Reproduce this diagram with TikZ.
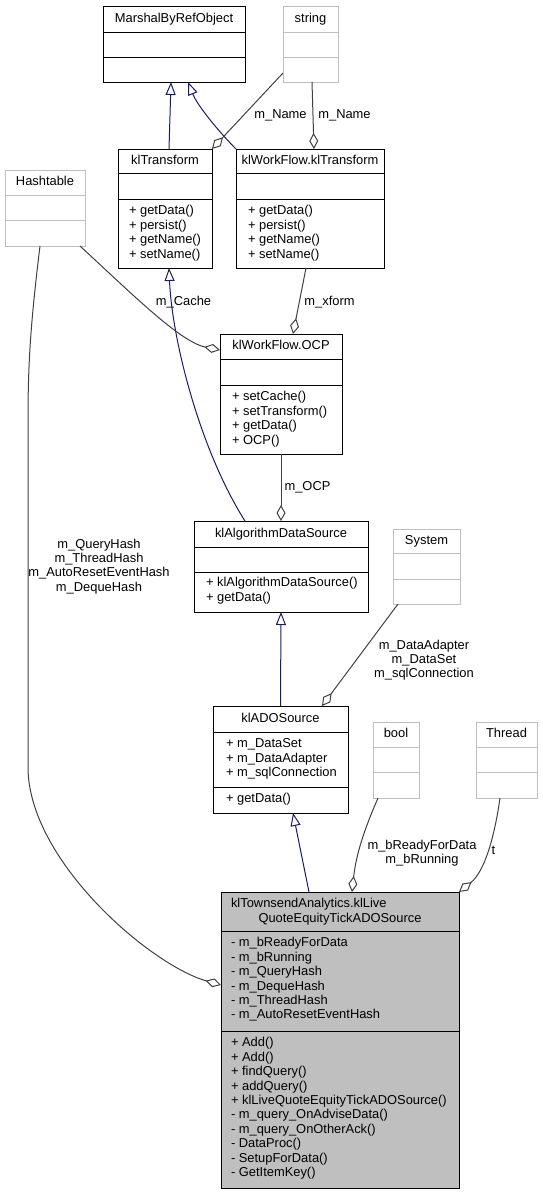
\documentclass[tikz,border=0pt]{standalone}
\usepackage{fontspec}
\setmainfont{Liberation Sans}
\usetikzlibrary{arrows.meta,calc}

\definecolor{inhblue}{HTML}{191970}
\definecolor{aggrey}{HTML}{404040}
\definecolor{extgrey}{HTML}{BFBFBF}
\definecolor{focusfill}{HTML}{BFBFBF}

\newcommand{\umlfont}{\fontsize{12.9}{14.4}\selectfont}

% class box: name, style, x1, y1, x2, y2, first divider, second divider
\newcommand{\umlclass}[8]{%
  \node[#2, minimum width={#5-#3}, minimum height={#6-#4}] (#1) at ({(#3+#5)/2},{(#4+#6)/2}) {};
  \draw[#2, fill=none] (#3,#7) -- (#5,#7) (#3,#8) -- (#5,#8);
}

\begin{document}
\begin{tikzpicture}[x=1pt,y=-1pt,
  every node/.style={font=\umlfont, inner sep=0pt, outer sep=0pt, text=black},
  cls/.style={draw=black, line width=1pt, rectangle},
  extcls/.style={draw=extgrey, line width=1pt, rectangle},
  focuscls/.style={draw=black, line width=1pt, rectangle, fill=focusfill},
  title/.style={anchor=base},
  members/.style={anchor=north west, align=left},
  lbl/.style={anchor=north, align=center},
  inherit/.style={draw=inhblue, line width=1pt, -{Triangle[open,length=13pt,width=10pt]}},
  aggr/.style={draw=aggrey, line width=1pt, -{Diamond[open,length=16pt,width=9pt]}},
]
\useasboundingbox (0,0) rectangle (543,1195);

% ---- class boxes ----
\umlclass{mbro}{cls}{103}{6}{245}{82}{32}{57}
\node[title] (mbro-t) at (174,22) {MarshalByRefObject};

\umlclass{string}{extcls}{283}{6}{338}{82}{32}{57}
\node[title] (string-t) at (310.5,22) {string};

\umlclass{klT}{cls}{118}{149}{212}{268}{173}{199}
\node[title] (klT-t) at (165,164) {klTransform};
\node[members] (klT-ops) at (129,204.9) {\strut+ getData()\\+ persist()\\+ getName()\\+ setName()};

\umlclass{wkT}{cls}{236}{149}{384}{268}{173}{199}
\node[title] (wkT-t) at (310,164) {klWorkFlow.klTransform};
\node[members] (wkT-ops) at (248,204.9) {\strut+ getData()\\+ persist()\\+ getName()\\+ setName()};

\umlclass{hash}{extcls}{5}{170}{85}{246}{195}{220}
\node[title] (hash-t) at (45,185.5) {Hashtable};

\umlclass{ocp}{cls}{220}{334}{342}{454}{359}{385}
\node[title] (ocp-t) at (281,349.5) {klWorkFlow.OCP};
\node[members] (ocp-ops) at (232,390.9) {\strut+ setCache()\\+ setTransform()\\+ getData()\\+ OCP()};

\umlclass{ads}{cls}{194}{521}{368}{612}{547}{572}
\node[title] (ads-t) at (281,537) {klAlgorithmDataSource};
\node[members] (ads-ops) at (206,576.9) {\strut+ klAlgorithmDataSource()\\+ getData()};

\umlclass{sys}{extcls}{393}{529}{460}{604}{553}{579}
\node[title] (sys-t) at (426.5,544) {System};

\umlclass{ado}{cls}{213}{706}{348}{813}{732}{787}
\node[title] (ado-t) at (280.5,722) {klADOSource};
\node[members] (ado-attr) at (226,737.9) {\strut+ m\_DataSet\\+ m\_DataAdapter\\+ m\_sqlConnection};
\node[members] (ado-ops) at (226,792.9) {\strut+ getData()};

\umlclass{bool}{extcls}{373}{722}{419}{798}{747}{772}
\node[title] (bool-t) at (396,737.5) {bool};

\umlclass{thread}{extcls}{476}{722}{537}{798}{747}{772}
\node[title] (thread-t) at (506.5,737.5) {Thread};

\umlclass{tsa}{focuscls}{221}{892}{459}{1188}{931}{1031}
\node[anchor=base west] (tsa-t1) at (231,907.5) {klTownsendAnalytics.klLive};
\node[title] (tsa-t2) at (340,922) {QuoteEquityTickADOSource};
\node[members] (tsa-attr) at (231,936.9) {\strut- m\_bReadyForData\\- m\_bRunning\\- m\_QueryHash\\- m\_DequeHash\\- m\_ThreadHash\\- m\_AutoResetEventHash};
\node[members] (tsa-ops) at (231,1036.9) {\strut+ Add()\\+ Add()\\+ findQuery()\\+ addQuery()\\+ klLiveQuoteEquityTickADOSource()\\- m\_query\_OnAdviseData()\\- m\_query\_OnOtherAck()\\- DataProc()\\- SetupForData()\\- GetItemKey()};

% ---- generalisations ----
\draw[inherit] ([xshift=4pt]klT.north) -- ([xshift=-3pt]mbro.south);
\draw[inherit] (wkT.north west) .. controls +(-14,-14) and +(10,25) .. ([xshift=14pt]mbro.south);
\draw[inherit] ([xshift=-36pt]ads.north) .. controls (200,450) and (172,340) .. ([xshift=4pt]klT.south);
\draw[inherit] (ado.north) -- (ads.south);
\draw[inherit] ([xshift=-31pt]tsa.north) -- ([xshift=12.5pt]ado.south);

% ---- aggregations ----
\draw[aggr] ([yshift=-29pt]string.west) -- (klT.north east);
\draw[aggr] ([xshift=1.5pt]string.south) -- ([xshift=4pt]wkT.north);
\draw[aggr] ([xshift=-5pt]hash.south east) .. controls (130,292) and (180,342) .. ([yshift=-16pt]ocp.north west);
\draw[aggr] ([xshift=-4pt]wkT.south) -- ([xshift=12pt]ocp.north);
\draw[aggr] (ocp.south) -- (ads.north);
\draw[aggr] ([xshift=-28.5pt]sys.south) -- ([xshift=41.5pt]ado.north);
\draw[aggr] ([xshift=-5pt]hash.south) .. controls (31,320) and (28,360) .. (28,420) -- (28,767)
  .. controls (28,860) and (150,965) .. ([yshift=55pt]tsa.west);
\draw[aggr] ([xshift=-18pt]bool.south) .. controls (364,830) and (356,855) .. ([xshift=12pt]tsa.north);
\draw[aggr] ([xshift=-6.5pt]thread.south) .. controls (494,840) and (484,872) .. (tsa.north east);

% ---- role labels ----
\node[title] (lbl-name1) at (280.5,118) {m\_Name};
\node[title] (lbl-name2) at (344.5,118) {m\_Name};
\node[title] (lbl-cache) at (183.5,305) {m\_Cache};
\node[title] (lbl-xform) at (329.5,305) {m\_xform};
\node[title] (lbl-ocp) at (307.5,490.5) {m\_OCP};
\node[lbl] (lbl-hash) at (99,538) {\strut m\_QueryHash\\m\_ThreadHash\\m\_AutoResetEventHash\\m\_DequeHash};
\node[lbl] (lbl-sys) at (424,639) {\strut m\_DataAdapter\\m\_DataSet\\m\_sqlConnection};
\node[lbl] (lbl-bool) at (422,839) {\strut m\_bReadyForData\\m\_bRunning};
\node[title] (lbl-t) at (493.5,854) {t};
\end{tikzpicture}
\end{document}
